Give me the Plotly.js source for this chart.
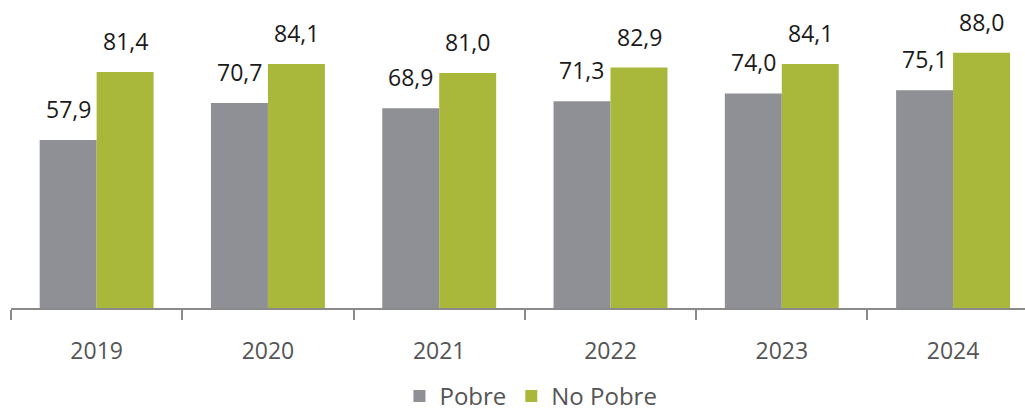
<!DOCTYPE html>
<html>
<head>
<meta charset="utf-8">
<script src="https://cdn.plot.ly/plotly-3.0.1.min.js"></script>
<style>
  html, body { margin: 0; padding: 0; background: #fff; }
  #chart { width: 1025px; height: 412px; }
</style>
</head>
<body>
<div id="chart"></div>
<script>
  const YEARS = ["2019", "2020", "2021", "2022", "2023", "2024"];
  const POBRE = [57.9, 70.7, 68.9, 71.3, 74.0, 75.1];
  const NO_POBRE = [81.4, 84.1, 81.0, 82.9, 84.1, 88.0];

  const GRAY = "#8f9096";
  const GREEN = "#a9b83b";
  const FONT = "'Open Sans', sans-serif";

  const fmt = (v) => v.toFixed(1).replace(".", ",");

  const traces = [
    { type: "bar", name: "Pobre", x: YEARS, y: POBRE, marker: { color: GRAY }, hoverinfo: "skip" },
    { type: "bar", name: "No Pobre", x: YEARS, y: NO_POBRE, marker: { color: GREEN }, hoverinfo: "skip" },
  ];

  // value labels above each bar, offset to the side of its group
  const annotations = [];
  [POBRE, NO_POBRE].forEach((series, s) => {
    series.forEach((v, i) => {
      annotations.push({
        x: i + (s === 0 ? -0.1665 : 0.1665),
        y: v,
        xref: "x",
        yref: "y",
        text: fmt(v),
        showarrow: false,
        yanchor: "bottom",
        yshift: 13,
        font: { family: FONT, size: 23, color: "#1a1a1a" },
      });
    });
  });

  const layout = {
    width: 1025,
    height: 412,
    margin: { l: 11, r: 0, t: 0, b: 104 },
    paper_bgcolor: "#ffffff",
    plot_bgcolor: "#ffffff",
    font: { family: FONT, color: "#555" },
    barmode: "group",
    bargap: 0.335,
    bargroupgap: 0,
    xaxis: {
      type: "category",
      range: [-0.5, 5.42],
      tickson: "boundaries",
      ticks: "outside",
      ticklen: 10,
      tickwidth: 2,
      tickcolor: "#8a8a8a",
      showline: true,
      linecolor: "#8a8a8a",
      linewidth: 2,
      showgrid: false,
      ticklabelstandoff: 21,
      tickfont: { family: FONT, size: 23, color: "#555" },
    },
    yaxis: {
      range: [0, 106.2],
      visible: false,
      showgrid: false,
      zeroline: false,
    },
    showlegend: true,
    legend: {
      orientation: "h",
      xref: "container",
      yref: "container",
      x: 0.518,
      xanchor: "center",
      y: 0.038,
      yanchor: "middle",
      font: { family: FONT, size: 24, color: "#555" },
      itemwidth: 30,
      tracegroupgap: 0,
    },
    annotations: annotations,
  };

  Plotly.newPlot("chart", traces, layout, { staticPlot: true, displayModeBar: false });
</script>
</body>
</html>
